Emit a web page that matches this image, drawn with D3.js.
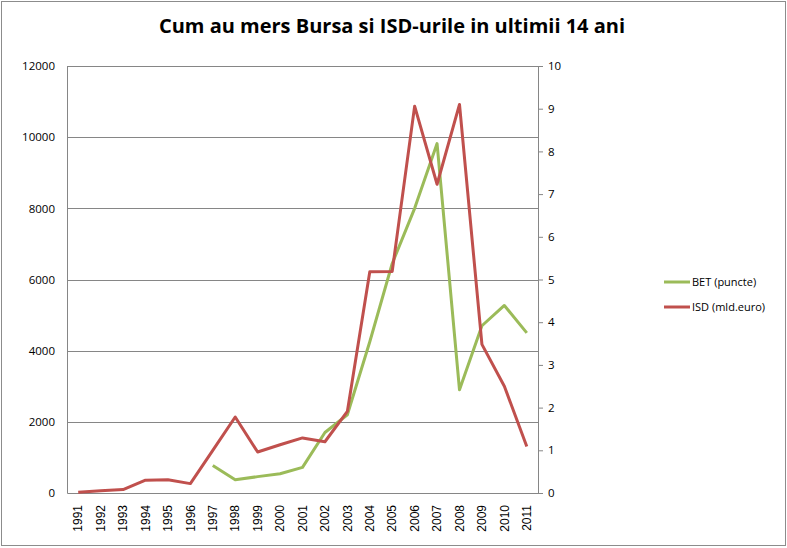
<!DOCTYPE html>
<html>
<head>
<meta charset="utf-8">
<title>Cum au mers Bursa si ISD-urile</title>
<script src="https://d3js.org/d3.v7.min.js"></script>
<style>
    body { margin: 0; background: #fff; }
    svg { display: block; }
</style>
</head>
<body>
<div id="chart"></div>
<script>
// data
var years = ["1991", "1992", "1993", "1994", "1995", "1996", "1997", "1998", "1999", "2000", "2001",
             "2002", "2003", "2004", "2005", "2006", "2007", "2008", "2009", "2010", "2011"];
// BET index (left axis), no values before 1997
var bet = [null, null, null, null, null, null, 770, 370, 460, 540, 720,
           1700, 2200, 4250, 6450, 8000, 9820, 2900, 4700, 5270, 4500];
// ISD in bn euro (right axis)
var isd = [0.02, 0.05, 0.08, 0.3, 0.31, 0.22, 1.0, 1.78, 0.96, 1.13, 1.29,
           1.2, 1.91, 5.18, 5.19, 9.06, 7.23, 9.1, 3.48, 2.5, 1.09];
var leftTicks = [0, 2000, 4000, 6000, 8000, 10000, 12000];
var rightTicks = [0, 1, 2, 3, 4, 5, 6, 7, 8, 9, 10];
var seriesNames = ["BET (puncte)", "ISD (mld.euro)"];

var W = 787, H = 548;
var margin = { top: 66, right: 249, bottom: 55, left: 67 },
    width = W - margin.left - margin.right,
    height = H - margin.top - margin.bottom;

var svg = d3.select("#chart").append("svg")
    .attr("width", W)
    .attr("height", H);

// outer frame
svg.append("rect")
    .attr("x", 1.5).attr("y", 1.5)
    .attr("width", W - 3).attr("height", H - 4)
    .attr("fill", "none")
    .attr("stroke", "#8c8c8c");

svg.append("text")
    .attr("x", 392)
    .attr("y", 33)
    .attr("text-anchor", "middle")
    .style("font-family", "'Open Sans', sans-serif")
    .style("font-weight", "bold")
    .style("font-size", "20px")
    .text("Cum au mers Bursa si ISD-urile in ultimii 14 ani");

var g = svg.append("g")
    .attr("transform", "translate(" + margin.left + "," + margin.top + ")");

var x = d3.scaleBand().domain(years).range([0, width]);
var yL = d3.scaleLinear().domain([0, 12000]).range([height, 0]);
var yR = d3.scaleLinear().domain([0, 10]).range([height, 0]);

// gridlines
g.append("g")
    .selectAll("line")
    .data(leftTicks.slice(1))
    .enter().append("line")
    .attr("x1", 0).attr("x2", width)
    .attr("y1", function (d) { return Math.round(yL(d)) + 0.5; })
    .attr("y2", function (d) { return Math.round(yL(d)) + 0.5; })
    .attr("stroke", "#868686");

// left axis
var axL = g.append("g")
    .call(d3.axisLeft(yL).tickValues(leftTicks).tickFormat(d3.format("d")).tickSize(0).tickPadding(12));
axL.select(".domain").attr("stroke", "#868686");
axL.selectAll("text")
    .style("font-family", "'Open Sans', sans-serif")
    .style("font-size", "11.5px")
    .attr("fill", "#000");

// right axis
var axR = g.append("g")
    .attr("transform", "translate(" + width + ",0)")
    .call(d3.axisRight(yR).tickValues(rightTicks).tickSize(5).tickPadding(5));
axR.select(".domain").attr("stroke", "#868686");
axR.selectAll("line").attr("stroke", "#868686");
axR.selectAll("text")
    .style("font-family", "'Open Sans', sans-serif")
    .style("font-size", "11.5px")
    .attr("fill", "#000");

// bottom axis
var axB = g.append("g")
    .attr("transform", "translate(0," + height + ")")
    .call(d3.axisBottom(x).tickSize(0).tickPadding(0));
axB.select(".domain").attr("stroke", "#868686");
axB.selectAll("text")
    .attr("transform", "rotate(-90)")
    .attr("x", -12)
    .attr("y", 0)
    .attr("dy", "0.35em")
    .attr("text-anchor", "end")
    .style("font-family", "'Liberation Sans', Arial, sans-serif")
    .style("font-size", "12px")
    .attr("fill", "#000");

var cx = function (i) { return x(years[i]) + x.bandwidth() / 2; };

var lineBet = d3.line()
    .defined(function (d) { return d !== null; })
    .x(function (d, i) { return cx(i); })
    .y(function (d) { return yL(d); });

var lineIsd = d3.line()
    .x(function (d, i) { return cx(i); })
    .y(function (d) { return yR(d); });

g.append("path")
    .datum(bet)
    .attr("d", lineBet)
    .attr("fill", "none")
    .attr("stroke", "#9bbb59")
    .attr("stroke-width", 3)
    .attr("stroke-linejoin", "round");

g.append("path")
    .datum(isd)
    .attr("d", lineIsd)
    .attr("fill", "none")
    .attr("stroke", "#c0504d")
    .attr("stroke-width", 3)
    .attr("stroke-linejoin", "round");

// legend
var colors = ["#9bbb59", "#c0504d"];
var legend = svg.append("g").attr("transform", "translate(664,282)");
seriesNames.forEach(function (name, i) {
    var row = legend.append("g").attr("transform", "translate(0," + (i * 25) + ")");
    row.append("line")
        .attr("x1", 0).attr("x2", 26)
        .attr("y1", 0).attr("y2", 0)
        .attr("stroke", colors[i])
        .attr("stroke-width", 3);
    row.append("text")
        .attr("x", 28)
        .attr("y", 0)
        .attr("dy", "0.35em")
        .style("font-family", "'Open Sans', sans-serif")
        .style("font-size", "11px")
        .text(name);
});
</script>
</body>
</html>
